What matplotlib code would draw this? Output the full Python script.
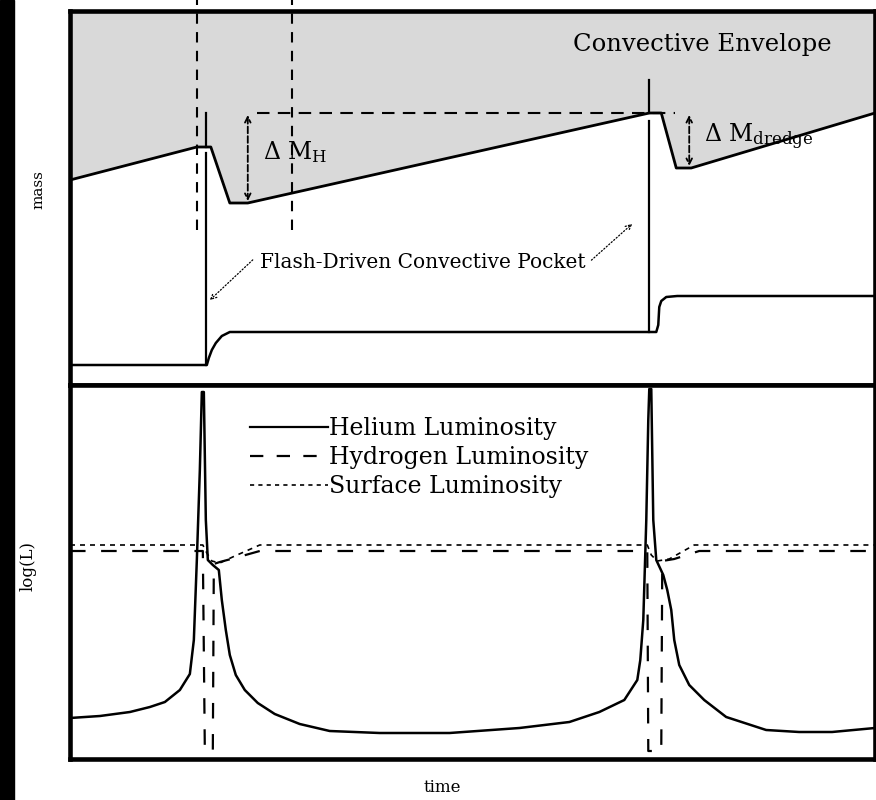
import numpy as np
import matplotlib.pyplot as plt
from matplotlib.patches import Rectangle
from matplotlib.lines import Line2D

plt.rcParams['font.family'] = ['DejaVu Serif']
plt.rcParams['mathtext.fontset'] = 'dejavuserif'

# unites arbitraires : temps 0..806, masse 0..374, log(L) 0..374

# base de l'enveloppe convective
env_t = [0, 127, 141, 160, 178, 580, 592, 607, 622, 806]
env_m = [205, 238, 238, 182, 182, 272, 272, 217, 217, 272]

# limite du coeur (sous les poches convectives)
core_t = [0, 137, 139, 142, 146, 152, 160, 587, 589, 590, 592, 597, 608, 806]
core_m = [20, 20, 27, 35, 42, 49, 53, 53, 60, 78, 84, 88, 89, 89]

# poches convectives des flashs
pulse_t = [136, 580]
pulse_top = [272, 305]
pulse_gap = [(238, 232), (272, 264)]
pulse_bot = [20, 53]

# reperes verticaux en tirets
mark_t = [127, 222]
mark_bot = 155
mark_top = 385

# niveau de reference Delta M_H
ref_m = 272
ref_t = [187, 606]

# luminosite helium
he_t = [0, 30, 60, 80, 95, 110, 120, 124, 127, 130, 132, 134, 136, 138, 143, 149,
        152, 156, 160, 166, 175, 188, 205, 230, 260, 310, 380, 450, 500, 530, 555,
        568, 571, 574, 577, 579, 580, 582, 584, 587, 594, 598, 602, 605, 610, 620,
        635, 657, 697, 730, 763, 806]
he_L = [41, 43, 47, 52, 57, 69, 85, 119, 199, 289, 367, 367, 239, 199, 194, 189,
        159, 129, 104, 84, 69, 56, 45, 35, 28, 26, 26, 31, 37, 47, 59,
        79, 99, 139, 239, 339, 370, 370, 239, 199, 184, 169, 149, 119, 94, 74,
        59, 42, 29, 27, 27, 31]

# luminosite hydrogene
h_t = [0, 133, 135, 143, 144, 150, 165, 190, 578, 579, 592, 593, 605, 630, 806]
h_L = [208, 208, 8, 8, 195, 197, 201, 208, 208, 8, 8, 198, 200, 208, 208]

# luminosite de surface
s_t = [0, 133, 137, 142, 150, 165, 190, 578, 582, 588, 600, 625, 806]
s_L = [214, 214, 206, 198, 196, 203, 214, 214, 204, 198, 200, 214, 214]

fig = plt.figure(figsize=(8.76, 8), dpi=100)
fig.add_artist(Rectangle((0, 0), 14 / 876, 1, transform=fig.transFigure,
                         color='black', zorder=10))

ax1 = fig.add_axes([70 / 876, 0.51875, 805 / 876, 0.4675])
ax2 = fig.add_axes([70 / 876, 0.05125, 805 / 876, 0.4675])

for ax in (ax1, ax2):
    ax.set_xlim(0, 806)
    ax.set_ylim(0, 374)
    ax.set_xticks([])
    ax.set_yticks([])
    for sp in ax.spines.values():
        sp.set_linewidth(3.3)

# --- panneau du haut : masse ---
ax1.fill_between(env_t, env_m, 374, color='#d9d9d9', lw=0)
ax1.plot(env_t, env_m, color='black', lw=2)
ax1.plot(core_t, core_m, color='black', lw=1.8)

for t, top, (g1, g2), bot in zip(pulse_t, pulse_top, pulse_gap, pulse_bot):
    ax1.plot([t, t], [top, g1], color='black', lw=1.6)
    ax1.plot([t, t], [g2, bot], color='black', lw=1.6)

for t in mark_t:
    ax1.plot([t, t], [mark_bot, mark_top], color='black', lw=1.5,
             dashes=(5, 4), clip_on=False)

ax1.plot(ref_t, [ref_m, ref_m], color='black', lw=1.5, dashes=(6, 4))

ax1.annotate('', xy=(178, 184), xytext=(178, 270),
             arrowprops=dict(arrowstyle='<->', lw=1.3, ls='--', color='black',
                             shrinkA=0, shrinkB=0))
ax1.annotate('', xy=(620, 219), xytext=(620, 270),
             arrowprops=dict(arrowstyle='<->', lw=1.3, ls='--', color='black',
                             shrinkA=0, shrinkB=0))

ax1.text(193, 233, r'$\Delta$ M$_{\rm H}$', fontsize=17, va='center')
ax1.text(635, 248, r'$\Delta$ M$_{\rm dredge}$', fontsize=17, va='center')
ax1.text(633, 340, 'Convective Envelope', fontsize=17.5, ha='center', va='center')

ax1.text(190, 123, 'Flash-Driven Convective Pocket', fontsize=14.5, va='center')
ax1.annotate('', xy=(138, 83), xytext=(185, 127),
             arrowprops=dict(arrowstyle='->', lw=0.9, ls=':', color='black'))
ax1.annotate('', xy=(565, 163), xytext=(520, 123),
             arrowprops=dict(arrowstyle='->', lw=0.9, ls=':', color='black'))

# --- panneau du bas : luminosites ---
ax2.plot(he_t, he_L, color='black', lw=1.8)
ax2.plot(h_t, h_L, color='black', lw=1.6, dashes=(7, 7))
ax2.plot(s_t, s_L, color='black', lw=1.2, dashes=(3, 3))

handles = [Line2D([], [], color='black', lw=1.6),
           Line2D([], [], color='black', lw=1.6, dashes=(6, 6)),
           Line2D([], [], color='black', lw=1.2, dashes=(2.5, 2.5))]
labels = ['Helium Luminosity', 'Hydrogen Luminosity', 'Surface Luminosity']
ax2.legend(handles, labels, frameon=False, loc='upper left',
           bbox_to_anchor=(0.212, 0.94), fontsize=17, handlelength=3.3,
           handletextpad=0.05, labelspacing=0.26, borderaxespad=0)

fig.text(38 / 876, 1 - 190 / 800, 'mass', rotation=90, ha='center',
         va='center', fontsize=11)
fig.text(28 / 876, 1 - 566 / 800, 'log(L)', rotation=90, ha='center',
         va='center', fontsize=12)
fig.text(442 / 876, 1 - 788 / 800, 'time', ha='center', va='center',
         fontsize=12)

fig.savefig('out.png', dpi=100)
